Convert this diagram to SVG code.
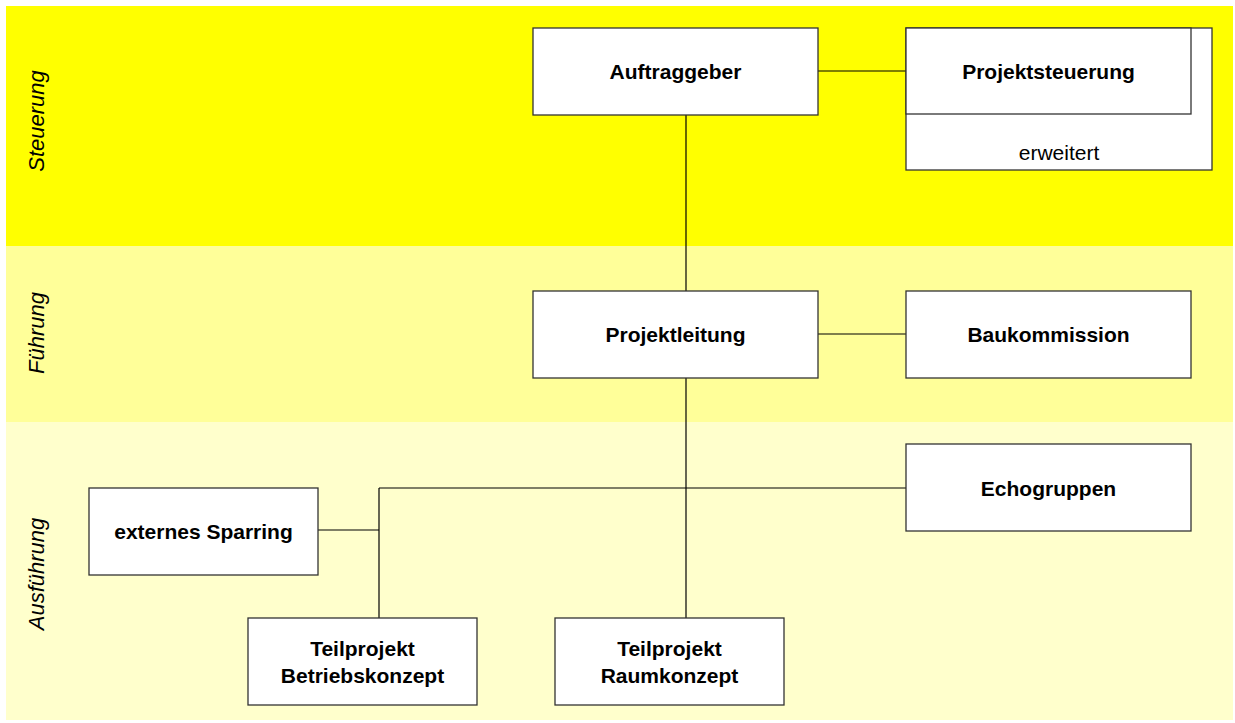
<svg xmlns="http://www.w3.org/2000/svg" width="1235" height="723" viewBox="0 0 1235 723">
<style>
.box{fill:#fff;stroke:#333;stroke-width:1.3}
.t{font-family:"Liberation Sans",Arial,sans-serif;font-weight:bold;font-size:21px;fill:#000;text-anchor:middle;dominant-baseline:central}
.n{font-family:"Liberation Sans",Arial,sans-serif;font-size:21px;fill:#000;text-anchor:middle;dominant-baseline:central}
.lane{font-family:"Liberation Sans",Arial,sans-serif;font-style:italic;font-size:22px;fill:#000;text-anchor:middle;dominant-baseline:central}
.c{stroke:#000;stroke-width:1.2;fill:none}
</style>
<rect width="1235" height="723" fill="#fff"/>
<g id="lanes">
<rect x="6" y="6" width="1227" height="240" fill="#ffff00"/>
<rect x="6" y="246" width="1227" height="176" fill="#ffff99"/>
<rect x="6" y="422" width="1227" height="298" fill="#ffffcc"/>
<text class="lane" transform="translate(36,121) rotate(-90)">Steuerung</text>
<text class="lane" transform="translate(36,333) rotate(-90)">Führung</text>
<text class="lane" transform="translate(36,574) rotate(-90)">Ausführung</text>
</g>
<g id="connectors">
<path class="c" d="M818,71H906"/>
<path class="c" d="M686,115V291"/>
<path class="c" d="M818,334H906"/>
<path class="c" d="M686,378V618"/>
<path class="c" d="M379,488H906"/>
<path class="c" d="M379,488V618"/>
<path class="c" d="M318,530H379"/>
</g>
<g id="auftraggeber"><rect class="box" x="533" y="28" width="285" height="87"/><text class="t" x="675.5" y="71">Auftraggeber</text></g>
<g id="projektsteuerung"><rect class="box" x="906" y="28" width="306" height="142"/><rect class="box" x="906" y="28" width="285" height="86"/><text class="t" x="1048.5" y="71">Projektsteuerung</text><text class="n" x="1059" y="152">erweitert</text></g>
<g id="projektleitung"><rect class="box" x="533" y="291" width="285" height="87"/><text class="t" x="675.5" y="334">Projektleitung</text></g>
<g id="baukommission"><rect class="box" x="906" y="291" width="285" height="87"/><text class="t" x="1048.5" y="334">Baukommission</text></g>
<g id="echogruppen"><rect class="box" x="906" y="444" width="285" height="87"/><text class="t" x="1048.5" y="488">Echogruppen</text></g>
<g id="sparring"><rect class="box" x="89" y="488" width="229" height="87"/><text class="t" x="203.5" y="531">externes Sparring</text></g>
<g id="betriebskonzept"><rect class="box" x="248" y="618" width="229" height="87"/><text class="t" x="362.5" y="648">Teilprojekt</text><text class="t" x="362.5" y="675">Betriebskonzept</text></g>
<g id="raumkonzept"><rect class="box" x="555" y="618" width="229" height="87"/><text class="t" x="669.5" y="648">Teilprojekt</text><text class="t" x="669.5" y="675">Raumkonzept</text></g>
</svg>
